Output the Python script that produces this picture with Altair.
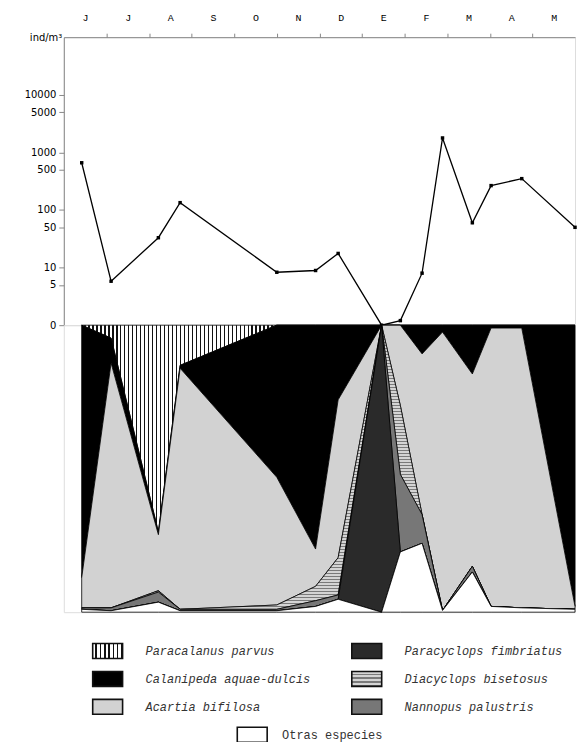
import json
import altair as alt
import pandas as pd

# ---------------- data ----------------
months = ["J", "J", "A", "S", "O", "N", "D", "E", "F", "M", "A", "M"]
# sampling dates, in months from the start of June
sample_pos = [0.42, 1.11, 2.22, 2.73, 5.00, 5.91, 6.44, 7.46, 7.90, 8.41, 8.89, 9.59, 10.03, 10.75, 12.00]
# total density, ind/m3
density = [660, 5.8, 33, 134, 8.3, 8.9, 17.6, 0, 1.2, 8, 1780, 60, 265, 350, 50]
density_ticks = [1, 5, 10, 50, 100, 500, 1000, 5000, 10000]

# relative composition (%) at each sample
paracalanus = [0, 4.5, 72, 14, 0, 0, 0, 0, 0, 0, 0, 0, 0, 0, 0]
calanipeda = [88, 8.7, 1, 1, 53, 78, 26, 0, 0, 10, 2.4, 17, 1, 1, 98]
acartia = [10.5, 85.3, 19.5, 84, 44.5, 13, 55, 0, 28, 56, 97, 67, 97, 97.5, 1]
paracyclops = [0, 0, 0, 0, 0, 0, 0, 100, 0, 0, 0, 0, 0, 0, 0]
diacyclops = [0, 0, 0.5, 0, 1.5, 5, 13, 0, 24, 0, 0, 0, 0, 0, 0]
nannopus = [0.5, 1, 3.5, 0.5, 0.5, 2, 1.5, 0, 27, 10, 0, 2, 0, 0, 0]
otras = [1, 0.5, 3.5, 0.5, 0.5, 2, 4.5, 0, 21, 24, 0.6, 14, 2, 1.5, 1]

species = ["Paracalanus parvus", "Calanipeda aquae-dulcis", "Acartia bifilosa",
           "Paracyclops fimbriatus", "Diacyclops bisetosus", "Nannopus palustris",
           "Otras especies"]
series = dict(zip(species, [paracalanus, calanipeda, acartia, paracyclops,
                            diacyclops, nannopus, otras]))
# stacking order from the top of the lower panel
stack_order = ["Paracalanus parvus", "Calanipeda aquae-dulcis", "Acartia bifilosa",
               "Diacyclops bisetosus", "Nannopus palustris", "Paracyclops fimbriatus",
               "Otras especies"]
# legend arrangement
legend_col = [0, 0, 0, 1, 1, 1, 0.558]
legend_row = [0, 1, 2, 0, 1, 2, 3]


# ---------------- styles ----------------
def stripes(n, dark, light, along="x", frac=0.3):
    stops = []
    for i in range(n):
        a = round(i / n, 5)
        b = round((i + 1 - frac) / n, 5)
        c = round((i + 1) / n, 5)
        stops += [{"offset": a, "color": light}, {"offset": b, "color": light},
                  {"offset": b, "color": dark}, {"offset": c, "color": dark}]
    g = {"gradient": "linear", "stops": stops}
    if along == "x":
        g.update(x1=0, x2=1, y1=0, y2=0)
    else:
        g.update(x1=0, x2=0, y1=0, y2=1)
    return g


area_fill = {
    "Paracalanus parvus": stripes(124, "#111111", "#ffffff", "x", 0.32),
    "Calanipeda aquae-dulcis": "#000000",
    "Acartia bifilosa": "#d2d2d2",
    "Paracyclops fimbriatus": "#2a2a2a",
    "Diacyclops bisetosus": stripes(95, "#7a7a7a", "#d4d4d4", "y", 0.45),
    "Nannopus palustris": "#777777",
    "Otras especies": "#ffffff",
}
swatch_fill = dict(area_fill)
swatch_fill["Paracalanus parvus"] = stripes(7, "#111111", "#ffffff", "x", 0.35)
swatch_fill["Diacyclops bisetosus"] = stripes(4, "#7a7a7a", "#d4d4d4", "y", 0.45)

W = 513
H_TOP = 289
H_BOT = 288
AX_FONT = "DejaVu Sans"
MONO = "Liberation Mono"

x_scale = alt.Scale(domain=[0, 12], nice=False, zero=False)

# ---------------- upper panel: total density ----------------
dens_df = pd.DataFrame({"t": sample_pos, "density": density})
month_vals = [i * 0.5 for i in range(1, 24)]
label_expr = ("datum.value % 1 == 0 ? '' : " + json.dumps(months).replace('"', "'")
              + "[floor(datum.value)]")

x_top = alt.X(
    "t:Q", scale=x_scale,
    axis=alt.Axis(orient="top", values=month_vals, title=None, grid=False,
                  labelExpr=label_expr, labelOverlap=False, labelFlush=False,
                  tickOpacity={"condition": {"test": "datum.value % 1 == 0", "value": 1},
                               "value": 0},
                  tickSize=4, labelPadding=11, labelFont=MONO, labelFontSize=10),
)
y_top = alt.Y(
    "dens:Q",
    scale=alt.Scale(type="log", domain=[1, 100000], nice=False),
    axis=alt.Axis(values=density_ticks, grid=False,
                  labelExpr="datum.value == 1 ? '0' : format(datum.value, 'd')",
                  title="ind/m³", titleAngle=0, titleX=-2, titleY=0,
                  titleAlign="right", titleBaseline="middle",
                  titleFont=AX_FONT, titleFontSize=10, titleFontWeight="normal",
                  tickSize=5, labelPadding=3, labelFont=AX_FONT, labelFontSize=10),
)
base_top = alt.Chart(dens_df).transform_calculate(dens="max(datum.density, 1)")
line = base_top.mark_line(color="black", strokeWidth=1.3).encode(x=x_top, y=y_top)
pts = base_top.mark_point(shape="square", filled=True, size=12, color="black",
                          opacity=1).encode(x=x_top, y=y_top)
upper = alt.layer(line, pts).properties(width=W, height=H_TOP)

# ---------------- lower panel: composition ----------------
rows = []
for i, t in enumerate(sample_pos):
    for name in species:
        rows.append({"t": t, "species": name, "pct": series[name][i],
                     "ord": stack_order.index(name)})
comp_df = pd.DataFrame(rows)

base_bot = alt.Chart(comp_df).transform_stack(
    stack="pct", groupby=["t"], as_=["y0", "y1"],
    sort=[alt.SortField("ord", order="ascending")])

y_scale_bot = alt.Scale(domain=[0, 100], reverse=True, nice=False, zero=False)
layers = []
for name in stack_order:
    layers.append(
        base_bot.transform_filter(alt.datum.species == name)
        .mark_area(fill=area_fill[name], stroke="black", strokeWidth=0.8,
                   interpolate="linear", opacity=1)
        .encode(x=alt.X("t:Q", scale=x_scale, axis=None),
                y=alt.Y("y0:Q", scale=y_scale_bot, axis=None),
                y2="y1:Q")
    )
lower = alt.layer(*layers).properties(width=W, height=H_BOT)

# ---------------- legend ----------------
leg_df = pd.DataFrame({"species": species, "col": legend_col, "row": legend_row})
lx = alt.X("col:Q", scale=alt.Scale(domain=[-0.1692, 1.8038], nice=False, zero=False),
           axis=None)
ly = alt.Y("row:Q", scale=alt.Scale(domain=[-0.571, 3.25], nice=False, zero=False,
                                     reverse=True), axis=None)
leg_layers = []
for name in species:
    leg_layers.append(
        alt.Chart(leg_df).transform_filter(alt.datum.species == name)
        .mark_rect(width=30, height=15, fill=swatch_fill[name], stroke="#111111",
                   strokeWidth=1.6)
        .encode(x=lx, y=ly)
    )
leg_layers.append(
    alt.Chart(leg_df).transform_filter(alt.datum.row < 3)
    .mark_text(align="left", baseline="middle", dx=38, font=MONO, fontSize=12,
               fontStyle="italic", color="#333333")
    .encode(x=lx, y=ly, text="species:N")
)
leg_layers.append(
    alt.Chart(leg_df).transform_filter(alt.datum.row == 3)
    .mark_text(align="left", baseline="middle", dx=30, font=MONO, fontSize=12,
               color="#333333")
    .encode(x=lx, y=ly, text="species:N")
)
legend = alt.layer(*leg_layers).properties(
    width=W, height=107, view=alt.ViewBackground(stroke="transparent"))

panels = alt.vconcat(upper, lower, spacing=0, bounds="flush")
chart = (
    alt.vconcat(panels, legend, spacing=19)
    .properties(padding={"left": 15, "top": 2, "right": 0, "bottom": 0})
    .configure_view(stroke="black", strokeWidth=1.3)
    .configure_axis(domainColor="black", tickColor="black", labelColor="#222222",
                    titleColor="#222222", domainWidth=1.3, tickWidth=1.3)
    .configure(background="white")
)

chart.save("out.html", embed_options={"renderer": "svg", "actions": False})
